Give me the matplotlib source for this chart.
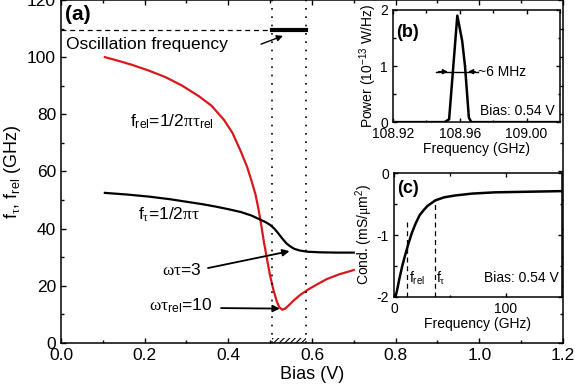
import numpy as np
import matplotlib
matplotlib.use("Agg")
import matplotlib.pyplot as plt
from matplotlib.ticker import MultipleLocator

plt.rcParams['font.family'] = ['Liberation Sans', 'DejaVu Sans']
plt.rcParams['mathtext.fontset'] = 'custom'
plt.rcParams['mathtext.rm'] = 'Liberation Sans'
plt.rcParams['mathtext.sf'] = 'Liberation Serif'  # serif greek letters
plt.rcParams['mathtext.default'] = 'regular'
plt.rcParams['axes.unicode_minus'] = False
plt.rcParams['hatch.linewidth'] = 0.8

# panel (a): characteristic frequencies vs bias
bias_rel = [0.105, 0.14, 0.17, 0.21, 0.25, 0.29, 0.33, 0.36, 0.39, 0.41, 0.43, 0.445,
            0.455, 0.465, 0.472, 0.478, 0.485, 0.493, 0.50, 0.508, 0.516, 0.522, 0.529,
            0.536, 0.545, 0.556, 0.572, 0.59, 0.61, 0.635, 0.665, 0.70]
f_rel = [100, 98.6, 97.3, 95.3, 93, 90, 86.3, 83, 78, 73.5, 67, 61.6,
         57, 52, 47, 42, 35.5, 29, 23.5, 18.5, 14.5, 12.5, 11.6,
         12, 13.2, 14.8, 16.8, 18.6, 20.3, 22.3, 24, 25.5]

bias_tau = [0.105, 0.16, 0.21, 0.26, 0.30, 0.34, 0.37, 0.40, 0.43, 0.455, 0.477, 0.49,
            0.50, 0.51, 0.517, 0.525, 0.532, 0.54, 0.548, 0.558, 0.572, 0.59, 0.62,
            0.66, 0.70]
f_tau = [52.5, 51.9, 51.2, 50.3, 49.4, 48.5, 47.7, 46.8, 45.8, 44.6, 43.1, 42.2,
         41.3, 40, 38.8, 37.3, 36, 34.7, 33.8, 32.9, 32.3, 31.9, 31.7,
         31.6, 31.6]

bias_osc = [0.505, 0.585]
f_osc = [109.5, 109.5]

# panel (b): spectrum
freq_b = [108.92, 108.951, 108.9537, 108.9586, 108.9615, 108.9632, 108.9655, 108.967, 109.02]
power_b = [0, 0, 0.05, 1.9, 1.45, 1.0, 0.08, 0, 0]
fwhm_lo, fwhm_hi = 108.9546, 108.9634

# panel (c): conductance vs frequency
freq_c = [1.5, 3, 5, 7.5, 10, 13, 16, 19.5, 23, 26.5, 30, 37, 45, 55, 70, 90, 120, 150]
cond_c = [-2.0, -1.88, -1.7, -1.5, -1.33, -1.14, -0.97, -0.81, -0.68, -0.6, -0.53,
          -0.44, -0.39, -0.36, -0.33, -0.31, -0.30, -0.29]
f_rel_c = 12
f_tau_c = 36.5

fig = plt.figure(figsize=(5.75, 3.84), dpi=100)
ax = fig.add_axes([0.106, 0.107, 0.873, 0.893])


def style(a, size, major=3.5, minor=2):
    a.tick_params(which='both', direction='in', top=True, right=True, labelsize=size, width=1)
    a.tick_params(which='major', length=major)
    a.tick_params(which='minor', length=minor)
    for s in a.spines.values():
        s.set_linewidth(1.1)


ax.plot(bias_rel, f_rel, color='#d7191c', lw=1.6)
ax.plot(bias_tau, f_tau, color='k', lw=1.6)
ax.plot(bias_osc, f_osc, color='k', lw=3)
ax.plot([0, bias_osc[0]], f_osc, color='k', lw=0.9, ls=(0, (4, 3)))
for xv in bias_osc:
    ax.axvline(xv, color='k', lw=1.2, ls=(0, (1, 4)))
ax.fill_between(bias_osc, 0, 1.6, facecolor='none', edgecolor='k', hatch='//////', lw=0)

ax.set_xlim(0, 1.2)
ax.set_ylim(0, 120)
ax.xaxis.set_major_locator(MultipleLocator(0.2))
ax.xaxis.set_minor_locator(MultipleLocator(0.1))
ax.yaxis.set_major_locator(MultipleLocator(20))
ax.yaxis.set_minor_locator(MultipleLocator(10))
ax.xaxis.set_major_formatter(plt.FormatStrFormatter('%.1f'))
style(ax, 12.5)
ax.set_xlabel('Bias (V)', fontsize=13, labelpad=2)
ax.set_ylabel(r'f$_{\mathsf{\tau}}$, f$_{rel}$ (GHz)', fontsize=13, labelpad=3)

ax.text(0.01, 114.8, '(a)', fontsize=15, fontweight='bold', va='center')
ax.text(0.012, 104.6, 'Oscillation frequency', fontsize=12.5, va='center')
ax.annotate('', xy=(0.537, 107.8), xytext=(0.472, 104.2),
            arrowprops=dict(arrowstyle='-|>', color='k', lw=1, mutation_scale=9))
ax.text(0.165, 77.5, r'f$_{rel}$=1/2$\mathsf{\pi\tau}_{rel}$', fontsize=12.5, va='center')
ax.text(0.185, 45, r'f$_{\mathsf{\tau}}$=1/2$\mathsf{\pi\tau}$', fontsize=12.5, va='center')
ax.text(0.337, 25.5, r'$\mathsf{\omega\tau}$=3', fontsize=12.5, va='center', ha='right')
ax.annotate('', xy=(0.553, 32.3), xytext=(0.345, 26),
            arrowprops=dict(arrowstyle='-|>', color='k', lw=1.3, mutation_scale=10))
ax.text(0.362, 13, r'$\mathsf{\omega\tau}_{rel}$=10', fontsize=12.5, va='center', ha='right')
ax.annotate('', xy=(0.53, 12), xytext=(0.376, 12.2),
            arrowprops=dict(arrowstyle='-|>', color='k', lw=1.3, mutation_scale=10))

# inset (b)
axb = fig.add_axes([0.683, 0.682, 0.291, 0.292])
axb.plot(freq_b, power_b, color='k', lw=1.8)
axb.plot([108.9457, 108.971], [0.9, 0.9], color='k', lw=1)
axb.annotate('', xy=(fwhm_lo, 0.9), xytext=(108.9457, 0.9),
             arrowprops=dict(arrowstyle='-|>', color='k', lw=1, mutation_scale=7))
axb.annotate('', xy=(fwhm_hi, 0.9), xytext=(108.971, 0.9),
             arrowprops=dict(arrowstyle='-|>', color='k', lw=1, mutation_scale=7))
axb.text(108.971, 0.9, '~6 MHz', fontsize=10, va='center')
axb.text(109.017, 0.2, 'Bias: 0.54 V', fontsize=10, va='center', ha='right')
axb.text(108.922, 1.6, '(b)', fontsize=13, fontweight='bold', va='center')
axb.set_xlim(108.92, 109.02)
axb.set_ylim(0, 2)
axb.set_xticks([108.92, 108.96, 109.00])
axb.xaxis.set_minor_locator(MultipleLocator(0.02))
axb.yaxis.set_major_locator(MultipleLocator(1))
axb.yaxis.set_minor_locator(MultipleLocator(0.5))
axb.xaxis.set_major_formatter(plt.FormatStrFormatter('%.2f'))
style(axb, 10, 3, 1.8)
axb.set_xlabel('Frequency (GHz)', fontsize=10, labelpad=1)
axb.set_ylabel(r'Power (10$^{-13}$ W/Hz)', fontsize=10, labelpad=1)

# inset (c)
axc = fig.add_axes([0.685, 0.227, 0.292, 0.322])
axc.plot(freq_c, cond_c, color='k', lw=1.8)
axc.plot([f_rel_c, f_rel_c], [-2, -0.79], color='k', lw=0.9, ls=(0, (4, 3)))
axc.plot([f_tau_c, f_tau_c], [-2, -0.42], color='k', lw=0.9, ls=(0, (4, 3)))
axc.text(f_rel_c + 1.5, -1.7, r'f$_{rel}$', fontsize=10, va='center')
axc.text(f_tau_c + 1.5, -1.7, r'f$_{\mathsf{\tau}}$', fontsize=10, va='center')
axc.text(147, -1.7, 'Bias: 0.54 V', fontsize=10, va='center', ha='right')
axc.text(3, -0.25, '(c)', fontsize=13, fontweight='bold', va='center')
axc.set_xlim(0, 150)
axc.set_ylim(-2, 0)
axc.xaxis.set_major_locator(MultipleLocator(100))
axc.xaxis.set_minor_locator(MultipleLocator(50))
axc.yaxis.set_major_locator(MultipleLocator(1))
axc.yaxis.set_minor_locator(MultipleLocator(0.5))
style(axc, 10, 3, 1.8)
axc.set_xlabel('Frequency (GHz)', fontsize=10, labelpad=1)
axc.set_ylabel(r'Cond. (mS/$\mathsf{\mu}$m$^2$)', fontsize=10, labelpad=1)

fig.savefig('out.png', dpi=100)
